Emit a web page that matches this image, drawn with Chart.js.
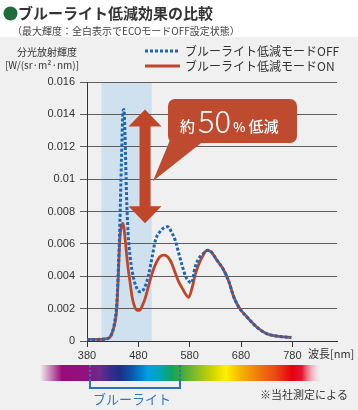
<!DOCTYPE html>
<html>
<head>
<meta charset="utf-8">
<script src="https://cdn.jsdelivr.net/npm/chart.js@4.4.1/dist/chart.umd.min.js"></script>
<style>
body{margin:0;background:#fff;}
canvas{display:block;}
</style>
</head>
<body>
<canvas id="grafica" width="358" height="410"></canvas>
<script>

// DATA

const wavelengths = [380, 400, 420, 425, 430, 435, 438, 441, 444, 447, 450, 452, 454, 457, 460, 464, 468, 473, 478, 483, 488, 493, 500, 507, 513, 522, 530, 537, 545, 552, 558, 565, 572, 578, 584, 590, 596, 603, 610, 615, 622, 633, 646, 656, 665, 672, 680, 694, 711, 730, 750, 765, 778];

const modeOff = [0.0001, 0.0001, 0.00015, 0.00025, 0.0006, 0.0014, 0.0023, 0.0044, 0.0072, 0.0110, 0.0141, 0.0143, 0.0128, 0.0090, 0.0067, 0.0052, 0.0043, 0.0036, 0.0032, 0.00304, 0.0031, 0.00335, 0.0041, 0.0052, 0.0062, 0.00675, 0.0070, 0.00706, 0.0067, 0.0062, 0.0055, 0.0047, 0.0040, 0.0037, 0.0036, 0.0045, 0.0050, 0.0053, 0.0055, 0.0056, 0.0055, 0.0050, 0.0044, 0.0037, 0.0028, 0.0023, 0.0019, 0.0014, 0.00085, 0.00045, 0.0003, 0.00025, 0.00022];

const modeOn = [0.0001, 0.0001, 0.00015, 0.00025, 0.0006, 0.0012, 0.0020, 0.0040, 0.0063, 0.0071, 0.00727, 0.0070, 0.0064, 0.0054, 0.0045, 0.0036, 0.0027, 0.0021, 0.0019, 0.0019, 0.0022, 0.0026, 0.0034, 0.0042, 0.0047, 0.0052, 0.0053, 0.0052, 0.0048, 0.0042, 0.0037, 0.0033, 0.0029, 0.0027, 0.0032, 0.0040, 0.0046, 0.0051, 0.0055, 0.0056, 0.0055, 0.0050, 0.0044, 0.0037, 0.0028, 0.0023, 0.0019, 0.0014, 0.00085, 0.00045, 0.0003, 0.00025, 0.00022];

const seriesNames = ['ブルーライト低減モードOFF', 'ブルーライト低減モードON'];

const xTicks = [380, 480, 580, 680, 780];
const yTicks = [0, 0.002, 0.004, 0.006, 0.008, 0.01, 0.012, 0.014, 0.016];

const blueBand = [408, 506];


// STYLE

const JP = '"Noto Sans CJK JP", sans-serif';
const NUM = '"Liberation Sans", Arial, sans-serif';
const BLUE = '#1d66b5';
const RED = '#c0462a';
const TEXT = '#333';


// BACKGROUND + BLUE BAND

const fondo = {
    id: 'fondo',
    beforeDraw(chart){
        const c = chart.ctx;
        const a = chart.chartArea;
        const x = chart.scales.x;
        c.save();
        c.fillStyle = '#fff';
        c.fillRect(0, 0, chart.width, chart.height);
        c.fillStyle = '#f0f0f0';
        c.fillRect(0, 37, chart.width, chart.height - 37);
        const x1 = x.getPixelForValue(blueBand[0]);
        const x2 = x.getPixelForValue(blueBand[1]);
        c.fillStyle = '#cfe1ee';
        c.fillRect(x1, a.top, x2 - x1, a.bottom - a.top);
        c.restore();
    }
};


// ARROW + CALLOUT

const flecha = {
    id: 'flecha',
    afterDatasetsDraw(chart){
        const c = chart.ctx;
        const x = chart.scales.x;
        const y = chart.scales.y;
        const ax = x.getPixelForValue(493);
        const top = y.getPixelForValue(Math.max(...modeOff));
        const bot = y.getPixelForValue(Math.max(...modeOn));
        const hw = 16.5, sw = 5.5, hl = 17;

        c.save();
        c.fillStyle = RED;
        c.beginPath();
        c.moveTo(ax, top);
        c.lineTo(ax + hw, top + hl);
        c.lineTo(ax + sw, top + hl);
        c.lineTo(ax + sw, bot - hl);
        c.lineTo(ax + hw, bot - hl);
        c.lineTo(ax, bot);
        c.lineTo(ax - hw, bot - hl);
        c.lineTo(ax - sw, bot - hl);
        c.lineTo(ax - sw, top + hl);
        c.lineTo(ax - hw, top + hl);
        c.closePath();
        c.fill();

        // callout box
        c.fillStyle = '#be4a30';
        c.beginPath();
        c.roundRect(168, 99, 129, 44, 7);
        c.fill();
        c.beginPath();
        c.moveTo(170, 140);
        c.lineTo(205, 140);
        c.lineTo(153, 181);
        c.closePath();
        c.fill();

        c.fillStyle = '#fff';
        c.textBaseline = 'alphabetic';
        let tx = 180;
        c.font = '500 15px ' + JP;
        c.fillText('約', tx, 132);
        tx += c.measureText('約').width + 3;
        c.font = '300 31px ' + JP;
        c.fillText('50', tx, 133);
        tx += c.measureText('50').width + 2;
        c.font = '500 13px ' + JP;
        c.fillText('%', tx, 132);
        tx += c.measureText('%').width + 3;
        c.font = '500 15px ' + JP;
        c.fillText('低減', tx, 132);
        c.restore();
    }
};


// TEXTS, LEGEND, SPECTRUM

const extras = {
    id: 'extras',
    afterDraw(chart){
        const c = chart.ctx;
        c.save();

        // title
        c.fillStyle = '#1e6b3c';
        c.beginPath();
        c.arc(10.5, 13.5, 7, 0, Math.PI * 2);
        c.fill();
        c.fillStyle = TEXT;
        c.textBaseline = 'middle';
        c.font = 'bold 15px ' + JP;
        c.fillText('ブルーライト低減効果の比較', 18, 13);
        c.fillStyle = '#444';
        c.font = '10px ' + JP;
        c.fillText('（最大輝度：全白表示でECOモードOFF設定状態）', 12, 31);

        // y axis title
        c.fillStyle = TEXT;
        c.textAlign = 'center';
        c.font = '10px ' + JP;
        c.fillText('分光放射輝度', 47, 52);
        c.fillText('[W/(sr·m²·nm)]', 42, 65);

        // legend
        c.textAlign = 'left';
        c.lineWidth = 3;
        c.strokeStyle = BLUE;
        c.setLineDash([3, 2]);
        c.beginPath();
        c.moveTo(145, 51);
        c.lineTo(180, 51);
        c.stroke();
        c.setLineDash([]);
        c.strokeStyle = RED;
        c.beginPath();
        c.moveTo(145, 66);
        c.lineTo(180, 66);
        c.stroke();
        c.fillStyle = TEXT;
        c.font = '12px ' + JP;
        c.fillText(seriesNames[0], 185, 51);
        c.fillText(seriesNames[1], 185, 66);

        // axis unit
        c.font = '11px ' + JP;
        c.fillText('波長[nm]', 308, 354);

        // spectrum bar
        const g = c.createLinearGradient(40, 0, 321, 0);
        const stops = [
            [40, 'rgba(154,10,122,0)'], [62, '#9a0a7a'], [88, '#8e137f'], [100, '#6a2a8c'],
            [112, '#332d8e'], [120, '#1d2f87'], [132, '#0a58ad'], [148, '#00a0e4'],
            [160, '#00a6b5'], [172, '#12a35e'], [180, '#3aa83c'], [195, '#80bb2a'],
            [212, '#cfd400'], [226, '#fff100'], [240, '#f8b500'], [258, '#f07a10'],
            [275, '#ea4a16'], [292, '#e60012'], [302, '#e51530'], [321, 'rgba(240,200,210,0)']
        ];
        stops.forEach(s => g.addColorStop((s[0] - 40) / 281, s[1]));
        c.fillStyle = g;
        c.fillRect(40, 365, 281, 16);

        // blue light bracket
        c.strokeStyle = '#2d6fbf';
        c.lineWidth = 2;
        c.setLineDash([2.5, 2]);
        c.beginPath();
        c.moveTo(90, 365); c.lineTo(90, 381);
        c.moveTo(180, 365); c.lineTo(180, 381);
        c.stroke();
        c.setLineDash([]);
        c.beginPath();
        c.moveTo(90, 381); c.lineTo(90, 388); c.lineTo(180, 388); c.lineTo(180, 381);
        c.stroke();
        c.fillStyle = '#2f78c4';
        c.font = '13px ' + JP;
        c.textAlign = 'center';
        c.fillText('ブルーライト', 132, 399);

        c.fillStyle = TEXT;
        c.font = '11px ' + JP;
        c.textAlign = 'left';
        c.fillText('※当社測定による', 260, 395);

        c.restore();
    }
};


// CHART

const ctx = document.getElementById('grafica');

new Chart(ctx, {

    type: 'line',

    data: {
        datasets: [{
            label: seriesNames[0],
            data: wavelengths.map((w, i) => ({x: w, y: modeOff[i]})),
            borderColor: BLUE,
            borderWidth: 3,
            borderDash: [3, 2],
            cubicInterpolationMode: 'monotone',
            pointRadius: 0,
            fill: false
        }, {
            label: seriesNames[1],
            data: wavelengths.map((w, i) => ({x: w, y: modeOn[i]})),
            borderColor: RED,
            borderWidth: 2.8,
            cubicInterpolationMode: 'monotone',
            pointRadius: 0,
            fill: false
        }]
    },

    options: {
        responsive: false,
        animation: false,
        layout: {
            padding: {top: 82, right: 21, left: 0, bottom: 0}
        },
        plugins: {
            legend: {display: false},
            tooltip: {enabled: false}
        },
        scales: {
            x: {
                type: 'linear',
                min: 380,
                max: 867,
                afterBuildTicks: s => { s.ticks = xTicks.map(v => ({value: v})); },
                afterFit: s => { s.height = 69; },
                grid: {drawOnChartArea: false, tickLength: 6, color: '#333'},
                border: {color: '#333'},
                ticks: {
                    font: {family: NUM, size: 11},
                    color: TEXT,
                    padding: 2,
                    maxRotation: 0,
                    autoSkip: false
                }
            },
            y: {
                min: 0,
                max: 0.016,
                afterBuildTicks: s => { s.ticks = yTicks.map(v => ({value: v})); },
                afterFit: s => { s.width = 87; },
                grid: {color: '#5e5e5e', tickLength: 7},
                border: {color: '#333'},
                ticks: {
                    font: {family: NUM, size: 11},
                    color: TEXT,
                    padding: 5,
                    callback: v => String(+v.toFixed(3))
                }
            }
        }
    },

    plugins: [fondo, flecha, extras]

});

</script>
</body>
</html>
